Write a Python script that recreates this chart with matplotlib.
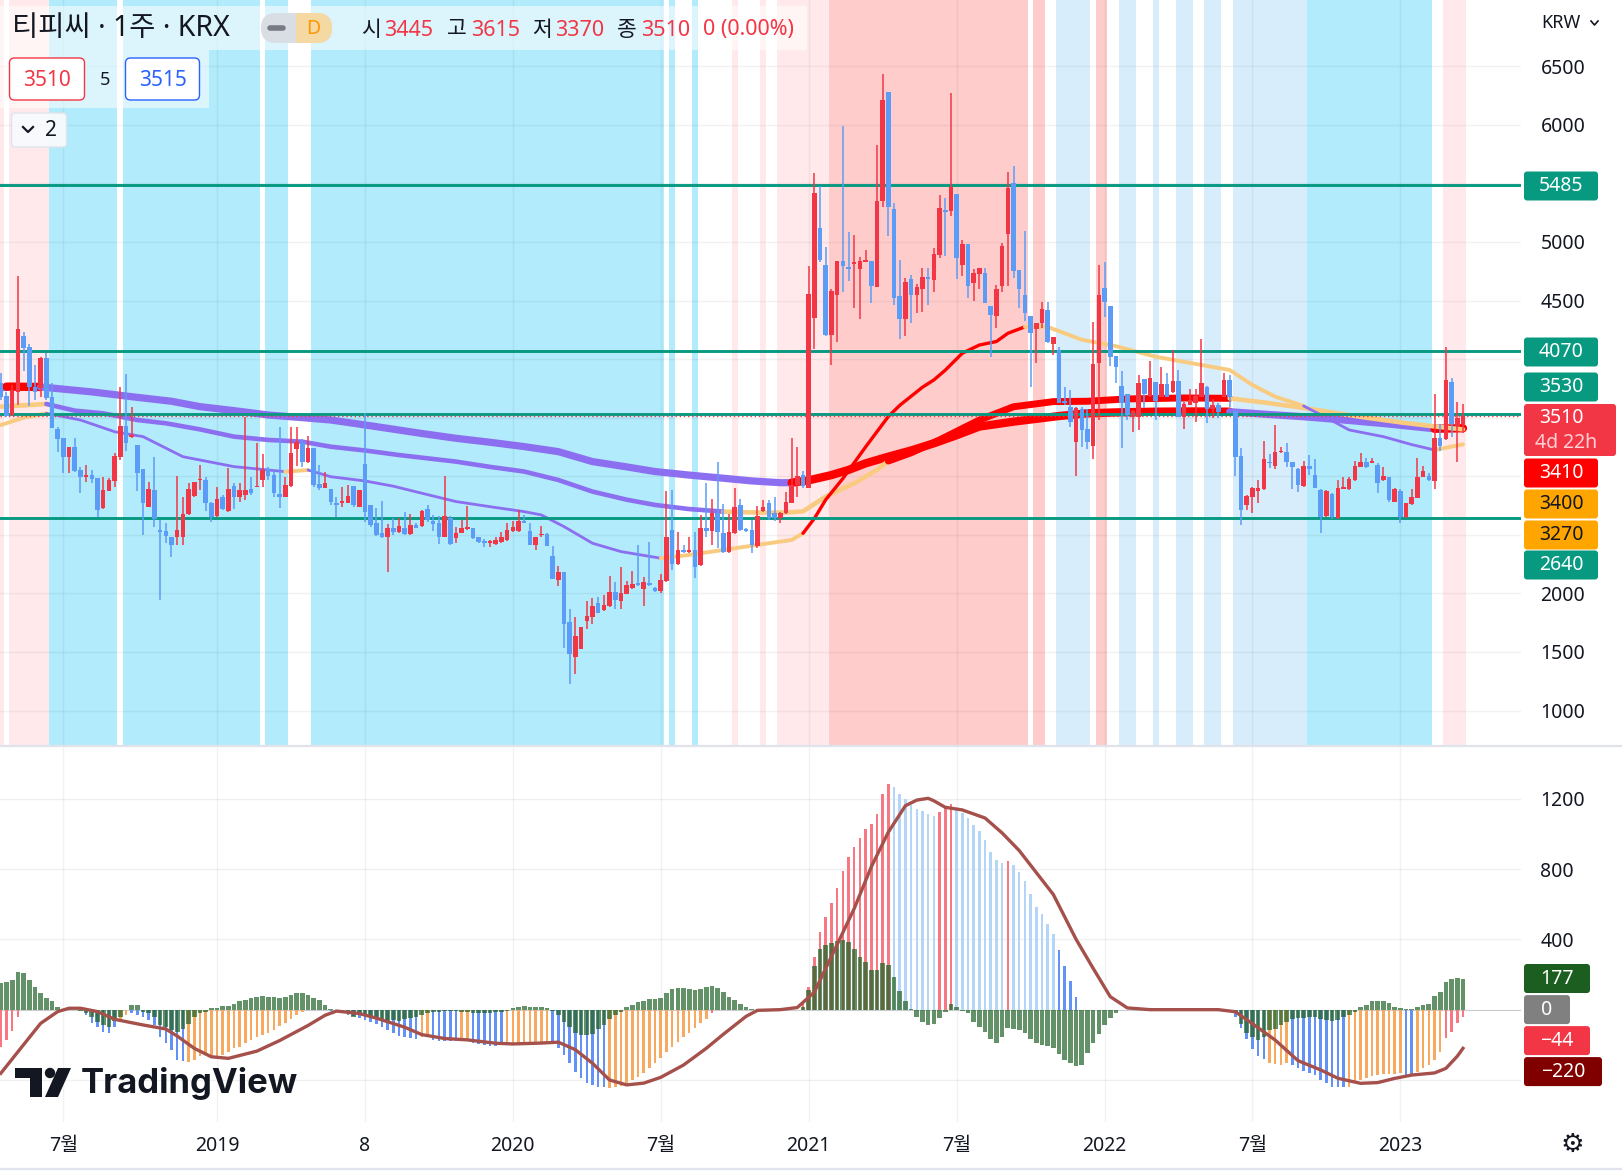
import numpy as np
import matplotlib.pyplot as plt
from matplotlib.patches import FancyBboxPatch, Rectangle, Polygon, Circle

plt.rcParams['font.family'] = ['Noto Sans', 'Noto Sans CJK KR', 'DejaVu Sans']

# weekly candles, first one is week -38 (week 0 = first week of 2019)
first_week = -38
opens = [
    3793, 3685, 3523, 3722, 4197, 4100, 3765, 3756, 4012, 3679,
    3403, 3324, 3167, 3247, 3053, 2996, 3008, 2982, 2726, 2877,
    2962, 3167, 3429, 3338, 3267, 3059, 2740, 2883, 2541, 2533,
    2479, 2479, 2479, 2675, 2834, 2965, 2968, 2769, 2664, 2820,
    2706, 2917, 2826, 2840, 2891, 2905, 2968, 3062, 3011, 2848,
    2826, 2917, 3233, 3287, 3124, 3241, 2931, 2903, 2888, 2775,
    2775, 2775, 2917, 2740, 3104, 2755, 2598, 2513, 2479, 2556,
    2528, 2556, 2508, 2584, 2579, 2721, 2619, 2599, 2485, 2647,
    2473, 2516, 2550, 2559, 2485, 2448, 2428, 2422, 2439, 2456,
    2536, 2536, 2619, 2533, 2417, 2496, 2508, 2320, 2115, 2183,
    1757, 1461, 1529, 1768, 1802, 1916, 1859, 1893, 2013, 1939,
    1998, 2047, 2081, 2041, 2081, 2044, 2024, 2106, 2542, 2252,
    2371, 2357, 2371, 2243, 2559, 2536, 2684, 2519, 2357, 2516,
    2752, 2545, 2542, 2405, 2704, 2772, 2690, 2641, 2684, 2775,
    2923, 3011, 2903, 4348, 5116, 4803, 4206, 4547, 4837, 4783,
    4812, 4769, 4832, 4837, 4618, 5350, 6280, 5281, 4539, 4342,
    4684, 4547, 4601, 4701, 4675, 4889, 5273, 5267, 5409, 4803,
    4983, 4653, 4727, 4732, 4453, 4371, 4627, 5065, 5500, 4761,
    4547, 4368, 4254, 4306, 4419, 4126, 4078, 3637, 3594, 3295,
    3571, 3403, 3258, 3964, 4604, 4453, 4026, 3770, 3702, 3508,
    3508, 3830, 3688, 3802, 3679, 3784, 3716, 3813, 3503, 3611,
    3628, 3679, 3765, 3574, 3608, 3679, 3821, 3557, 3173, 2755,
    2820, 2877, 2891, 3116, 3090, 3204, 3207, 3119, 3062, 2920,
    3087, 3011, 2883, 2664, 2846, 2646, 2894, 2891, 2971, 3082,
    3121, 3116, 3096, 2968, 2991, 2783, 2874, 2649, 2763, 2817,
    2996, 3005, 2962, 3324, 3318, 3802, 3429, 3445]
highs = [
    3880, 3720, 3779, 4709, 4234, 4126, 3949, 4021, 4055, 3793,
    3423, 3324, 3252, 3324, 3082, 3096, 3053, 2982, 2996, 2988,
    3196, 3765, 3873, 3594, 3267, 3059, 2954, 3167, 2627, 2598,
    2479, 3002, 2826, 2940, 2954, 3096, 2996, 2783, 2905, 2840,
    3073, 2940, 2940, 3508, 2996, 3287, 3190, 3082, 3053, 3423,
    2991, 3423, 3423, 3315, 3344, 3241, 3096, 3039, 2888, 2826,
    2905, 2925, 2917, 2883, 3537, 2755, 2726, 2792, 2592, 2640,
    2647, 2695, 2678, 2599, 2712, 2755, 2670, 2661, 3003, 2661,
    2570, 2627, 2747, 2559, 2485, 2462, 2456, 2485, 2528, 2599,
    2621, 2712, 2670, 2599, 2485, 2579, 2514, 2408, 2235, 2183,
    1868, 1796, 1717, 1936, 1959, 1973, 1987, 2149, 2098, 2223,
    2106, 2189, 2414, 2138, 2439, 2058, 2163, 2875, 2883, 2528,
    2414, 2485, 2522, 2673, 2946, 2806, 3122, 2764, 2675, 2900,
    2809, 2556, 2627, 2747, 2798, 2798, 2826, 2698, 2866, 3324,
    3250, 3048, 4795, 5586, 5478, 4954, 4601, 4837, 5990, 5088,
    5059, 4874, 4931, 4840, 5828, 6434, 6280, 5330, 4846, 4690,
    4718, 4638, 4778, 4775, 4946, 5401, 5372, 6271, 5409, 5017,
    4983, 4766, 4775, 4781, 4453, 4633, 4994, 5594, 5648, 4761,
    5096, 4368, 4306, 4490, 4490, 4192, 4106, 3765, 3736, 3594,
    3594, 3571, 4319, 4803, 4826, 4453, 4026, 3898, 3702, 3565,
    3864, 3830, 3986, 3802, 3935, 3878, 4077, 3907, 3637, 3745,
    3745, 4171, 3770, 3659, 3622, 3878, 3864, 3565, 3238, 2840,
    2905, 2968, 3301, 3190, 3435, 3252, 3281, 3124, 3068, 3133,
    3181, 3144, 2888, 2883, 2854, 2968, 2991, 2996, 3130, 3196,
    3153, 3153, 3116, 3076, 2991, 2897, 2888, 2769, 2888, 3153,
    3087, 3025, 3702, 3446, 4100, 3836, 3637, 3615]
lows = [
    3651, 3508, 3514, 3608, 3901, 3600, 3651, 3679, 3651, 3410,
    3210, 3025, 3025, 3039, 2860, 2954, 2940, 2655, 2718, 2870,
    2911, 3139, 3218, 3324, 2870, 2499, 2740, 2570, 1944, 2433,
    2308, 2416, 2413, 2670, 2826, 2883, 2706, 2612, 2655, 2712,
    2698, 2718, 2777, 2797, 2840, 2905, 2905, 2968, 2826, 2726,
    2820, 2911, 3087, 3082, 3110, 2911, 2883, 2897, 2755, 2649,
    2740, 2769, 2740, 2735, 2612, 2570, 2490, 2470, 2186, 2500,
    2519, 2499, 2499, 2556, 2570, 2612, 2536, 2422, 2480, 2414,
    2434, 2513, 2542, 2468, 2428, 2394, 2400, 2414, 2434, 2450,
    2528, 2528, 2599, 2411, 2371, 2485, 2405, 2120, 2067, 1537,
    1227, 1313, 1524, 1697, 1737, 1830, 1853, 1887, 1868, 1868,
    1993, 2041, 2064, 1893, 2064, 2016, 2001, 2101, 2200, 2243,
    2348, 2348, 2135, 2237, 2485, 2417, 2388, 2348, 2348, 2508,
    2536, 2528, 2343, 2388, 2698, 2630, 2616, 2599, 2678, 2769,
    2821, 2903, 2897, 4089, 4832, 4200, 3950, 4149, 4576, 4670,
    4434, 4340, 4825, 4482, 4612, 5301, 5054, 4462, 4169, 4200,
    4311, 4391, 4405, 4462, 4576, 4866, 4880, 5224, 4681, 4709,
    4525, 4499, 4596, 4477, 4021, 4263, 4570, 4627, 4690, 4439,
    4328, 3765, 3964, 4263, 4140, 4035, 3623, 3610, 3424, 3005,
    3252, 3230, 3147, 3480, 4362, 3944, 3793, 3238, 3480, 3380,
    3395, 3585, 3679, 3480, 3673, 3673, 3708, 3503, 3403, 3605,
    3466, 3673, 3452, 3494, 3494, 3673, 3594, 3005, 2584, 2712,
    2684, 2769, 2883, 3068, 3062, 3196, 3076, 2888, 2863, 2911,
    3011, 2897, 2513, 2655, 2632, 2632, 2888, 2883, 2962, 3076,
    3068, 3110, 2860, 2962, 2783, 2777, 2604, 2641, 2755, 2811,
    2991, 2962, 2894, 3218, 3309, 3338, 3119, 3370]
closes = [
    3679, 3517, 3736, 4257, 4097, 3765, 3722, 4012, 3671, 3415,
    3318, 3167, 3247, 3048, 2996, 3008, 2979, 2715, 2883, 2968,
    3173, 3429, 3281, 3352, 3031, 2769, 2888, 2638, 2527, 2493,
    2416, 2541, 2678, 2891, 2954, 2979, 2769, 2655, 2803, 2718,
    2888, 2820, 2883, 2883, 2860, 2917, 3053, 3002, 2860, 2826,
    2925, 3201, 3295, 3124, 3241, 2925, 2903, 2945, 2780, 2757,
    2780, 2831, 2755, 2883, 2698, 2584, 2499, 2479, 2555, 2522,
    2579, 2508, 2584, 2562, 2704, 2627, 2596, 2485, 2661, 2422,
    2516, 2556, 2556, 2473, 2439, 2428, 2434, 2456, 2485, 2542,
    2570, 2619, 2604, 2417, 2482, 2508, 2408, 2126, 2183, 1739,
    1483, 1637, 1711, 1808, 1893, 1836, 1902, 2013, 1944, 2001,
    2072, 2081, 2072, 2098, 2072, 2024, 2115, 2482, 2252, 2371,
    2357, 2371, 2229, 2559, 2536, 2684, 2528, 2357, 2525, 2735,
    2545, 2536, 2414, 2661, 2738, 2641, 2641, 2687, 2778, 2923,
    3003, 2917, 4556, 5421, 4846, 4206, 4584, 4837, 4798, 4766,
    4823, 4837, 4846, 4627, 5350, 6212, 5301, 4525, 4342, 4661,
    4550, 4616, 4701, 4681, 4897, 5287, 5259, 5472, 4866, 4983,
    4627, 4732, 4775, 4482, 4377, 4596, 4966, 5463, 4755, 4596,
    4396, 4226, 4306, 4425, 4149, 4192, 3628, 3623, 3466, 3580,
    3395, 3295, 3958, 4547, 4484, 4021, 3930, 3628, 3523, 3557,
    3793, 3699, 3836, 3642, 3784, 3679, 3813, 3508, 3617, 3651,
    3688, 3799, 3577, 3608, 3551, 3821, 3679, 3167, 2712, 2831,
    2897, 2903, 3144, 3110, 3207, 3210, 3119, 3076, 2925, 3087,
    3059, 2903, 2655, 2874, 2655, 2897, 2903, 2976, 3087, 3121,
    3082, 3121, 2945, 3002, 2797, 2888, 2649, 2769, 2820, 2991,
    3042, 2968, 3324, 3258, 3821, 3446, 3494, 3510]

# moving averages (week, value), with colour runs
ma_long_w = [-38, -37, -31, -22, -15, -8, -3, 3, 9, 15, 20, 25, 30, 36, 42, 48, 54, 60, 66, 72,
             77, 83, 89, 94, 99, 101, 104, 108, 111, 114, 118, 122, 126, 130, 134, 140, 144, 148, 153, 158,
             165, 172, 178, 184, 191, 198, 205, 210, 214, 219]
ma_long = [3765, 3765, 3762, 3720, 3679, 3640, 3594, 3560, 3523, 3500, 3480, 3445, 3409, 3365, 3324, 3290,
           3253, 3210, 3125, 3080, 3040, 3010, 2983, 2960, 2945, 2945, 2965, 3010, 3054, 3110, 3167, 3220,
           3281, 3350, 3424, 3466, 3490, 3514, 3537, 3545, 3551, 3553, 3551, 3530, 3508, 3480, 3450, 3425,
           3405, 3410]
ma_long_runs = [(-38, -37, 'purple'), (-37, -31, 'red'), (-31, 101, 'purple'), (101, 178, 'red'),
                (178, 214, 'purple'), (214, 219, 'red')]

ma_mid_w = [-38, -30, -25, -20, -14, -9, -3, 3, 9, 15, 20, 26, 32, 42, 48, 54, 60, 66, 72, 77,
            83, 89, 95, 100, 103, 107, 112, 116, 118, 122, 127, 134, 140, 147, 153, 160, 170, 178, 184, 190,
            196, 202, 208, 214, 219]
ma_mid = [3594, 3617, 3560, 3537, 3480, 3452, 3400, 3338, 3310, 3295, 3252, 3220, 3181, 3125, 3080, 3040,
          2968, 2869, 2800, 2755, 2720, 2698, 2690, 2690, 2700, 2826, 2940, 3054, 3130, 3200, 3310, 3480,
          3593, 3637, 3640, 3660, 3668, 3665, 3630, 3590, 3545, 3500, 3460, 3425, 3400]
ma_mid_runs = [(-38, -30, 'orange'), (-30, 89, 'purple'), (89, 118, 'orange'), (118, 178, 'red'),
               (178, 219, 'orange')]

ma_fast_w = [-38, -34, -30, -24, -18, -13, -6, 3, 12, 16, 20, 26, 31, 36, 42, 48, 54, 57, 61, 66,
             71, 78, 83, 89, 95, 101, 103, 105, 107, 110, 114, 118, 120, 124, 126, 128, 131, 134, 137, 139,
             142, 146, 149, 152, 158, 165, 173, 178, 182, 186, 191, 195, 199, 205, 210, 214, 219]
ma_fast = [3437, 3500, 3537, 3480, 3380, 3338, 3167, 3082, 3039, 3053, 2996, 2960, 2915, 2855, 2784, 2740,
           2698, 2670, 2570, 2428, 2357, 2300, 2328, 2371, 2414, 2456, 2513, 2640, 2800, 2980, 3250, 3510,
           3605, 3760, 3822, 3905, 4050, 4120, 4150, 4220, 4275, 4275, 4220, 4165, 4110, 4020, 3950, 3907,
           3779, 3679, 3600, 3500, 3395, 3338, 3270, 3224, 3272]
ma_fast_runs = [(-38, -30, 'orange'), (-30, 12, 'purple'), (12, 16, 'orange'), (16, 78, 'purple'),
                (78, 103, 'orange'), (103, 142, 'red'), (142, 191, 'orange'), (191, 214, 'purple'),
                (214, 219, 'orange')]

levels = [5485, 4070, 3530, 2640]
last_price = 3510

# background regimes (first week, last week, kind)
bands = [(-38, -38, 'lp'), (-36, -30, 'lp'), (-29, -18, 'c'), (-16, 7, 'c'), (9, 12, 'c'), (17, 78, 'c'),
         (80, 80, 'c'), (84, 84, 'c'), (91, 91, 'lp'), (96, 96, 'lp'), (99, 107, 'lp'), (108, 142, 'p'),
         (144, 145, 'p'), (148, 153, 'pb'), (155, 156, 'p'), (159, 161, 'pb'), (165, 165, 'pb'),
         (169, 171, 'pb'), (174, 176, 'pb'), (179, 191, 'pb'), (192, 213, 'c'), (216, 219, 'lp')]

# lower pane: green histogram per week
green = [
    154, 159, 169, 216, 210, 169, 127, 93, 64, 51,
    17, 6, 2, 0, -6, -21, -40, -68, -87, -97,
    -63, -40, 0, 27, 27, -11, -21, -40, -87, -97,
    -116, -125, -112, -82, -40, -21, -11, 8, 11, 21,
    21, 30, 49, 55, 64, 74, 78, 70, 70, 64,
    74, 83, 93, 93, 83, 64, 55, 27, 2, -2,
    -11, -21, -40, -30, -30, -40, -46, -55, -63, -59,
    -63, -55, -49, -40, -30, -21, -15, -11, -9, -8,
    -9, -11, -13, -17, -17, -17, -17, -15, -11, -6,
    8, 15, 19, 17, 15, 13, 9, -6, -30, -68,
    -97, -135, -144, -144, -138, -112, -87, -51, -30, -11,
    17, 27, 46, 51, 59, 59, 64, 97, 116, 121,
    121, 116, 112, 119, 127, 135, 123, 102, 74, 55,
    32, 13, 2, 0, 0, 0, 0, 0, 0, 0,
    0, 17, 112, 248, 343, 368, 377, 392, 396, 385,
    343, 298, 273, 226, 226, 264, 254, 184, 108, 51,
    2, -40, -68, -87, -82, -49, -11, 32, 17, -6,
    -21, -68, -97, -125, -169, -188, -154, -106, -112, -116,
    -131, -169, -191, -201, -207, -220, -252, -286, -305, -320,
    -317, -248, -191, -138, -87, -49, -21, -2, 0, 0,
    0, 0, 0, 0, 0, 0, 0, 0, 0, 0,
    0, 0, 0, 0, 0, -3, -8, -20, -82, -131,
    -157, -173, -157, -116, -112, -87, -68, -55, -49, -49,
    -44, -40, -55, -59, -63, -59, -40, -30, -11, 13,
    27, 51, 51, 51, 40, 17, 8, 2, 6, 17,
    27, 32, 78, 102, 159, 173, 178, 177]

# lower pane: thin histogram, runs of (first week, colour code, values)
thin_runs = [
    (-38, 'r', [-210, -175, -120, -40]),
    (-23, 'b', [-30, -74, -97, -125, -131, -100]),
    (-17, 'o', [-55, -30]),
    (-15, 'b', [-20, -30, -40, -59, -87, -154, -191, -229, -286, -290]),
    (-5, 'o', [-296, -286, -264, -248, -264, -264, -258, -239, -220, -210, -191, -173, -154, -144,
               -131, -116, -93, -78, -55, -30, -11]),
    (20, 'b', [-6, -11, -21, -30, -36, -49, -59, -68, -82, -100, -116, -135, -150, -157, -163, -169]),
    (36, 'o', [-157, -150]),
    (38, 'b', [-173, -176, -178, -180, -176]),
    (43, 'o', [-173, -176]),
    (45, 'b', [-188, -195, -201, -207, -207, -203]),
    (51, 'o', [-201, -201, -197, -195, -191, -188, -184, -188]),
    (59, 'b', [-191, -220, -258, -305, -353, -391, -419, -428, -438, -442]),
    (69, 'o', [-447, -442, -434, -419, -400, -381, -358, -334, -305, -277, -239, -210, -182, -154,
               -131, -106, -78, -55]),
    (87, 'r', [-21]),
    (103, 'r', [40, 131, 298, 444, 525, 605, 690, 789, 866, 927, 975, 1026, 1056, 1113, 1227, 1284]),
    (119, 'l', [1265, 1227, 1196, 1164, 1140, 1130, 1111, 1102]),
    (127, 'r', [1126, 1151, 1170]),
    (130, 'l', [1140, 1117, 1088, 1050, 1018, 965, 899, 851, 836]),
    (139, 'r', [846]),
    (140, 'l', [823, 785, 732, 658, 586, 544, 487, 430]),
    (148, 'b', [339, 248, 163, 74]),
    (179, 'b', [-40, -106, -169, -226, -264, -283]),
    (185, 'o', [-305, -309, -315, -305]),
    (189, 'b', [-315, -334, -347, -358, -372, -400, -419, -438, -442, -442]),
    (199, 'o', [-442, -419, -400, -391, -377, -372, -366, -366, -366, -362]),
    (209, 'b', [-372, -372]),
    (211, 'o', [-353, -334, -315, -286, -239]),
    (216, 'r', [-163, -125, -78, -44]),
]

# lower pane: signal line
sig_w = [-38, -35, -31, -28, -26, -24, -21, -18, -13, -9, -7, -4, -1, 2, 7, 11, 16, 19, 21, 25,
         28, 33, 36, 40, 44, 49, 52, 57, 60, 63, 66, 69, 72, 75, 78, 82, 86, 89, 93, 95,
         99, 102, 105, 109, 112, 115, 118, 121, 123, 125, 126, 128, 131, 135, 138, 141, 144, 147, 151, 154,
         157, 160, 164, 176, 179, 182, 186, 190, 194, 197, 201, 204, 207, 210, 214, 216, 218, 219]
sig_v = [-362, -240, -78, -11, 8, 8, -11, -55, -87, -110, -150, -220, -268, -277, -236, -176, -90, -32, -8, -22,
         -48, -100, -142, -164, -172, -191, -195, -190, -185, -228, -305, -400, -428, -418, -385, -315, -220, -140, -38, -4,
         0, 12, 100, 370, 575, 812, 1010, 1160, 1192, 1202, 1188, 1151, 1136, 1090, 1005, 905, 780, 655, 400, 235,
         74, 10, 0, 0, -12, -80, -173, -290, -343, -390, -419, -415, -391, -372, -360, -334, -265, -220]

time_ticks = [-27, 0, 26, 52, 78, 104, 130, 156, 182, 208]
time_labels = ['7월', '2019', '8', '2020', '7월', '2021', '7월', '2022', '7월', '2023']
# price ticks left readable (the rest sit under the value tags)
price_ticks = [1000, 1500, 2000, 4500, 5000, 6000, 6500]
osc_ticks = [400, 800, 1200]

assert len(opens) == len(highs) == len(lows) == len(closes) == len(green) == 258
assert len(sig_w) == len(sig_v)

UP, DOWN = '#F23645', '#5B9CF6'
BAND_COL = {'lp': '#FFE9EB', 'p': '#FFCCCC', 'c': '#B2EBFC', 'pb': '#D7EDFB'}
MA_COL = {'purple': '#8B6FF0', 'red': '#FF0000', 'orange': '#F9CB80'}
THIN_COL = {'r': '#F77882', 'l': '#B4D4F8', 'b': '#6491F5', 'o': '#F7AA5F'}
TEAL = '#089981'

W, H = 1622, 1175
fig = plt.figure(figsize=(W / 100, H / 100), dpi=100)
fig.patch.set_facecolor('white')
plot_w = 1521
ax1 = fig.add_axes([0, 1 - 745 / H, plot_w / W, 745 / H])
ax2 = fig.add_axes([0, 1 - 1122 / H, plot_w / W, (1122 - 747) / H])
xl = (-38.14, 229.2)
for ax in (ax1, ax2):
    ax.set_xlim(*xl)
    for s in ax.spines.values():
        s.set_visible(False)
    ax.yaxis.tick_right()
    ax.tick_params(axis='both', length=0, labelsize=14, labelcolor='#131722')
ax1.set_ylim(706, 7065)
ax2.set_ylim(-639, 1494)

# --- main pane ---
for s, e, k in bands:
    ax1.axvspan(s - 0.5, e + 0.5, color=BAND_COL[k], lw=0, zorder=0)
for t in time_ticks:
    ax1.axvline(t, color='#000000', alpha=0.05, lw=1, zorder=1)
    ax2.axvline(t, color='#000000', alpha=0.05, lw=1, zorder=1)
for p in range(1000, 7000, 500):
    ax1.axhline(p, color='#000000', alpha=0.05, lw=1, zorder=1)

def draw_ma(w, v, runs, widths, z):
    w = np.asarray(w)
    v = np.asarray(v)
    for s, e, kind in runs:
        m = (w >= s) & (w <= e)
        ax1.plot(w[m], v[m], color=MA_COL[kind], lw=widths[kind], solid_capstyle='round',
                 solid_joinstyle='round', zorder=z)

draw_ma(ma_long_w, ma_long, ma_long_runs, {'purple': 5.2, 'red': 6.0, 'orange': 5.2}, 2.5)
draw_ma(ma_mid_w, ma_mid, ma_mid_runs, {'purple': 3.3, 'red': 5.0, 'orange': 3.3}, 2.6)
draw_ma(ma_fast_w, ma_fast, ma_fast_runs, {'purple': 2.0, 'red': 2.4, 'orange': 2.8}, 2.7)

for lv in levels:
    ax1.axhline(lv, color=TEAL, lw=2.1, zorder=3)
ax1.axhline(last_price, color=UP, lw=1, ls=(0, (1, 2)), zorder=3)

weeks = np.arange(first_week, first_week + len(closes))
o, hi, lo, c = (np.array(a, dtype=float) for a in (opens, highs, lows, closes))
col = np.where(c >= o, UP, DOWN)
ax1.vlines(weeks, lo, hi, colors=col, lw=1.1, zorder=4)
ax1.bar(weeks, np.maximum(np.abs(c - o), 15), bottom=np.minimum(o, c), width=0.8,
        color=col, lw=0, zorder=5)

ax1.set_xticks([])
ax1.set_yticks(price_ticks)
ax1.tick_params(axis='y', pad=14)

# --- lower pane ---
for v in (-400, 400, 800, 1200):
    ax2.axhline(v, color='#000000', alpha=0.06, lw=1, zorder=1)
ax2.axhline(0, color='#9598A1', alpha=0.5, lw=0.8, zorder=1)
for start, code, vals in thin_runs:
    xs = np.arange(start, start + len(vals))
    ax2.bar(xs, vals, width=0.45, color=THIN_COL[code], lw=0, zorder=2)
ax2.bar(weeks, green, width=0.82, color='#1B5E20', alpha=0.68, lw=0, zorder=3)
ax2.plot(sig_w, sig_v, color='#A5504B', lw=2.4, solid_joinstyle='round', zorder=4)
ax2.set_yticks(osc_ticks)
ax2.tick_params(axis='y', pad=14)
ax2.set_xticks(time_ticks)
ax2.set_xticklabels(time_labels)
ax2.tick_params(axis='x', pad=10, labelsize=14)
for lab in ax2.get_xticklabels():
    if lab.get_text().isdigit() and len(lab.get_text()) == 4:
        lab.set_fontweight('bold')

# --- overlay (pixel coordinates) ---
ov = fig.add_axes([0, 0, 1, 1], zorder=20)
ov.set_xlim(0, W)
ov.set_ylim(H, 0)
ov.axis('off')
ov.patch.set_alpha(0)

ov.plot([0, W], [746, 746], color='#E0E3EB', lw=1.6)
ov.plot([0, W], [1169, 1169], color='#E0E3EB', lw=1.6)

def tag(x0, x1, yc, face, txt, tc='white', h=29):
    ov.add_patch(FancyBboxPatch((x0, yc - h / 2), x1 - x0, h,
                                boxstyle='round,pad=0,rounding_size=3', fc=face, ec='none'))
    ov.text((x0 + x1) / 2, yc, txt, color=tc, ha='center', va='center', fontsize=14)

tag(1524, 1598, 186, TEAL, '5485')
tag(1524, 1598, 352, TEAL, '4070')
tag(1524, 1598, 387, TEAL, '3530')
ov.add_patch(FancyBboxPatch((1524, 404), 92, 52, boxstyle='round,pad=0,rounding_size=3',
                            fc=UP, ec='none'))
ov.text(1561, 418, '3510', color='white', ha='center', va='center', fontsize=14)
ov.text(1566, 443, '4d 22h', color='#FFD0D4', ha='center', va='center', fontsize=14)
tag(1524, 1598, 473, '#FF0000', '3410')
tag(1524, 1598, 504, '#FFA500', '3400', tc='#131722')
tag(1524, 1598, 535, '#FFA500', '3270', tc='#131722')
tag(1524, 1598, 565, TEAL, '2640')

tag(1524, 1590, 978.5, '#1B5E20', '177')
tag(1524, 1570, 1009.6, '#808080', '0')
tag(1524, 1590, 1040.6, UP, '\u221244')
tag(1524, 1602, 1071.6, '#800000', '\u2212220')

ov.text(1541, 23, 'KRW', fontsize=13, color='#131722', va='center')
ov.plot([1591, 1594.5, 1598], [21, 25, 21], color='#131722', lw=1.2)
ov.text(1572, 1145, '\u2699', fontsize=19, color='#131722', ha='center', va='center',
        family=['DejaVu Sans'])

# header
ov.add_patch(Rectangle((0, 6), 807, 44, fc='white', alpha=0.55, ec='none'))
ov.add_patch(Rectangle((0, 50), 209, 58, fc='white', alpha=0.55, ec='none'))
ov.text(12, 29, '티피씨 · 1주 · KRX', fontsize=20.5, color='#131722', va='center')
ov.add_patch(FancyBboxPatch((261, 13), 71, 30, boxstyle='round,pad=0,rounding_size=15',
                            fc='#D9DDE4', ec='none'))
ov.add_patch(FancyBboxPatch((296, 13), 36, 30, boxstyle='round,pad=0,rounding_size=15',
                            fc='#F5D9A3', ec='none'))
ov.add_patch(Rectangle((296, 13), 12, 30, fc='#F5D9A3', ec='none'))
ov.plot([270, 283], [28, 28], color='#787B86', lw=4, solid_capstyle='round')
ov.text(313, 29, 'D', fontsize=14, color='#FF9800', ha='center', va='center', fontweight='bold')
pieces = [(361, '시', '#131722'), (384, '3445', UP), (447, '고', '#131722'), (471, '3615', UP),
          (532, '저', '#131722'), (555, '3370', UP), (617, '종', '#131722'), (641, '3510', UP),
          (703, '0 (0.00%)', UP)]
for x, t, cc in pieces:
    ov.text(x, 30, t, fontsize=15.5, color=cc, va='center')

ov.add_patch(FancyBboxPatch((9.5, 58), 75, 42, boxstyle='round,pad=0,rounding_size=5',
                            fc='white', ec=UP, lw=1))
ov.text(47, 80, '3510', fontsize=15, color=UP, ha='center', va='center')
ov.text(105, 80, '5', fontsize=13, color='#131722', ha='center', va='center')
ov.add_patch(FancyBboxPatch((125.5, 58), 74, 42, boxstyle='round,pad=0,rounding_size=5',
                            fc='white', ec='#2962FF', lw=1))
ov.text(162.5, 80, '3515', fontsize=15, color='#2962FF', ha='center', va='center')
ov.add_patch(FancyBboxPatch((11.5, 113), 55, 34, boxstyle='round,pad=0,rounding_size=4',
                            fc='#F8FAFD', ec='#E0E3EB', lw=1, alpha=0.95))
ov.plot([23, 28, 33], [127, 132, 127], color='#131722', lw=1.6)
ov.text(51, 130, '2', fontsize=15, color='#131722', ha='center', va='center')

# TradingView logo
ov.add_patch(Polygon([[15, 1068], [42, 1068], [42, 1097], [30, 1097], [30, 1078], [15, 1078]],
                     closed=True, fc='#131722', ec='none'))
ov.add_patch(Circle((50, 1073), 5.2, fc='#131722', ec='none'))
ov.add_patch(Polygon([[58, 1068], [71, 1068], [58, 1097], [45, 1097]], closed=True,
                     fc='#131722', ec='none'))
ov.text(81, 1084, 'TradingView', fontsize=25, fontweight='bold', color='#131722', va='center',
        family=['Inter', 'DejaVu Sans'])

fig.savefig('out.png', dpi=100)
